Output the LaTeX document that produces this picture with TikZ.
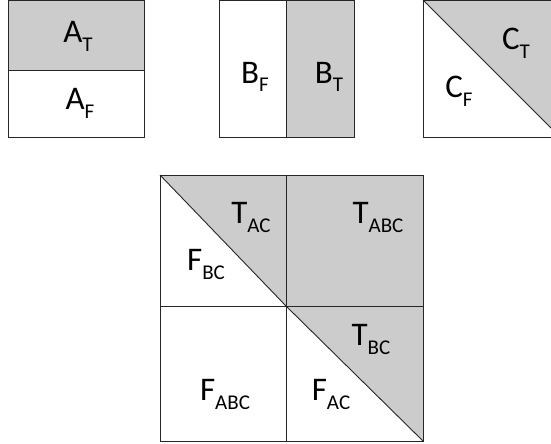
\documentclass[tikz,border=0pt]{standalone}
\usepackage{fontspec}
\setmainfont{Carlito}
\newcommand{\lbl}[2]{#1\raisebox{-9pt}{\fontsize{21}{21}\selectfont #2}}
\tikzset{
  edge/.style={draw=black!85, line width=0.9pt},
  shade/.style={fill=black!20},
  lab/.style={anchor=base, inner sep=0pt, font=\fontsize{33}{33}\selectfont}
}
\begin{document}
\begin{tikzpicture}[x=1pt, y=-1pt]
\clip (0,0) rectangle (551,444);
% Box A
\fill[shade] (8,0) rectangle (144,70);
\draw[edge] (8,0) rectangle (144,137);
\draw[edge] (8,70) -- (144,70);
\node[lab] (at) at (78,43) {\lbl{A}{T}};
\node[lab] (af) at (80,109) {\lbl{A}{F}};
% Box B
\fill[shade] (286,0) rectangle (354,137);
\draw[edge] (219,0) rectangle (354,137);
\draw[edge] (286,0) -- (286,137);
\node[lab] (bf) at (255,83) {\lbl{B}{F}};
\node[lab] (bt) at (329,83) {\lbl{B}{T}};
% Box C
\fill[shade] (423,0) -- (560,0) -- (560,137) -- cycle;
\draw[edge] (423,0) rectangle (560,137);
\draw[edge] (423,0) -- (560,137);
\node[lab] (ct) at (516,50) {\lbl{C}{T}};
\node[lab] (cf) at (459,97) {\lbl{C}{F}};
% Big box
\fill[shade] (160,175) -- (423,175) -- (423,441) -- (286,306) -- cycle;
\draw[edge] (160,175) rectangle (423,441);
\draw[edge] (286,175) -- (286,441);
\draw[edge] (160,306) -- (423,306);
\draw[edge] (160,175) -- (286,306) -- (423,441);
\node[lab] (tac) at (251,223) {\lbl{T}{AC}};
\node[lab] (tabc) at (378,223) {\lbl{T}{ABC}};
\node[lab] (fbc) at (206,270) {\lbl{F}{BC}};
\node[lab] (tbc) at (371,345) {\lbl{T}{BC}};
\node[lab] (fabc) at (225,400) {\lbl{F}{ABC}};
\node[lab] (fac) at (331,400) {\lbl{F}{AC}};
\end{tikzpicture}
\end{document}
